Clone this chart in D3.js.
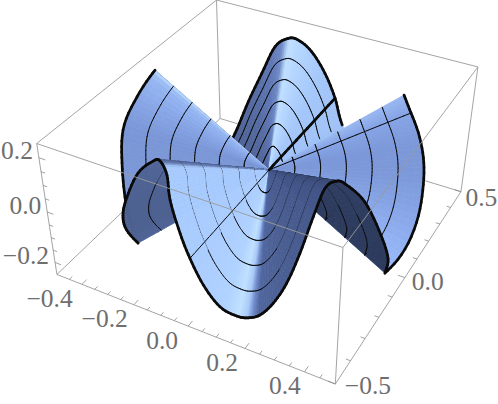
<!DOCTYPE html><html><body style="margin:0;background:#fff"><script src="https://cdn.jsdelivr.net/npm/d3@7"></script>
<svg id="s" width="498" height="404" style="position:absolute;left:0;top:0"></svg>
<script>
// ---- data ----
const xMajor=[-0.4,-0.2,0,0.2,0.4], yMajor=[-0.5,0,0.5], zMajor=[-0.2,0,0.2];
const xMinor=[-.45,-.35,-.3,-.25,-.15,-.1,-.05,.05,.1,.15,.25,.3,.35,.45];
const yMinor=[-.4,-.3,-.2,-.1,.1,.2,.3,.4];
const zMinor=[-.15,-.1,-.05,.05,.1,.15];
const rimRadius=0.5;
// rim arcs : angle (deg) and height
const thetaFront=[247.4,237.6,237.0,242.3,251.4,259.6,262.7,265.2,265.8,269.0,272.3,276.9,282.6,288.4,292.4,296.4,300.8,305.2,309.4,313.5,317.0,320.9,324.5,332.0,340.5,345.6,344.5];
const zFront=[-.031,-.027,.022,.112,.243,.318,.330,.292,.209,.103,.023,-.064,-.134,-.161,-.164,-.151,-.106,-.033,.072,.195,.283,.298,.275,.191,.035,-.083,-.133];
const thetaRight=[344.5,357.2,373.2,384.2,396.1,408.7,415.0];
const zRight=[-.133,-.115,-.061,.008,.051,.096,.133];
const thetaHidden=[55,58,66,78,87.2];
const zHidden=[.133,-.05,-.17,-.25,-.118];
const thetaRear=[78,87.2,91.1,96.0,102.0,107.6,111.7,117.0,122.4,128.1,134.0,140,150,160,166,169.6];
const zRear=[-.25,-.118,-.016,.075,.152,.191,.195,.161,.055,-.058,-.186,-.27,-.2,-.1,-.02,.183];
const thetaLeft=[169.6,181.1,193.3,197.2,197.6,194.8,189.6];
const zLeft=[.183,.132,.07,-.037,-.174,-.291,-.43];
// shading along each arc
const shadeFrontT=[237,262.7,264,272,284,289,292,294,296,305,316,320,325,346];
const shadeFrontC=["#4d6190","#52669a","#a9ccff","#a9ccff","#b0d2ff","#c0e1ff","#a8caf8","#6f8bcb","#4f659e","#4a5e92","#44568a","#3a4a75","#303e62","#2c3a5b"];
const shadeRightT=[345,357,373,384,396,409,415];
const shadeRightC=["#9cbbfb","#93b2f4","#85a3e4","#7c98d8","#7c98d8","#86a4e6","#9ab8f0"];
const shadeRearT=[55,87,96,107,111,114,118,125,135,170];
const shadeRearC=["#a0c2f6","#a0c2f6","#a3c6fa","#b5d6ff","#c0e0ff","#6d88c6","#5f78b6","#566ca4","#4e6396","#4e6396"];
const shadeLeftT=[169.6,172,181,193,198];
const shadeLeftC=["#bcdcff","#98b8f4","#89a7e8","#7a96d6","#7b97d6"];
const thinRulings=[48.7,272.3], boldRulings=[91.1];

// ---- projection fitted on the box corners ----
const sx=d3.scaleLinear().domain([-.5,.5]).range([0,1]);
const sy=d3.scaleLinear().domain([-.5,.5]).range([0,1]);
const sz=d3.scaleLinear().domain([-.25,.25]).range([0,1]);
const anchor=[[0,0,0,56.8,274.3],[1,0,0,335.8,384],[0,1,0,220,118.5],[1,1,0,460.8,191.8],[0,0,1,36.7,143.7],[1,0,1,342.6,247.5],[0,1,1,216.7,0],[1,1,1,478,66.8]];
function solve(A,b){const n=b.length;A=A.map((r,i)=>[...r,b[i]]);for(let i=0;i<n;i++){let p=i;for(let k=i;k<n;k++)if(Math.abs(A[k][i])>Math.abs(A[p][i]))p=k;[A[i],A[p]]=[A[p],A[i]];for(let k=0;k<n;k++)if(k!=i){const f=A[k][i]/A[i][i];for(let j=i;j<=n;j++)A[k][j]-=f*A[i][j];}}return A.map((r,i)=>r[n]/r[i]);}
const rows=[],rhs=[];for(const [X,Y,Z,u,v] of anchor){rows.push([X,Y,Z,1,0,0,0,0,-u*X,-u*Y,-u*Z]);rhs.push(u);rows.push([0,0,0,0,X,Y,Z,1,-v*X,-v*Y,-v*Z]);rhs.push(v);}
const N=d3.range(11).map(i=>d3.range(11).map(j=>d3.sum(rows,r=>r[i]*r[j])));const B=d3.range(11).map(i=>d3.sum(rows,(r,k)=>r[i]*rhs[k]));
const h=solve(N,B);
function proj(x,y,z){const X=sx(x),Y=sy(y),Z=sz(z),w=h[8]*X+h[9]*Y+h[10]*Z+1;return [(h[0]*X+h[1]*Y+h[2]*Z+h[3])/w,(h[4]*X+h[5]*Y+h[6]*Z+h[7])/w,w];}
const svg=d3.select('#s');
const line=d3.line();
const grey="#9a9a9a";
function seg(g,a,b,col,wd){g.append('path').attr('d',line([proj(...a).slice(0,2),proj(...b).slice(0,2)])).attr('stroke',col).attr('stroke-width',wd).attr('fill','none');}
const back=svg.append('g'),surf=svg.append('g'),front=svg.append('g'),labels=svg.append('g');
const L=-.5,H=.5,ZL=-.25,ZH=.25;
[[[L,H,ZH],[L,L,ZH]],[[L,H,ZH],[H,H,ZH]],[[L,H,ZH],[L,H,ZL]],[[L,H,ZL],[L,L,ZL]],[[L,H,ZL],[H,H,ZL]]].forEach(e=>seg(back,e[0],e[1],grey,.9));
[[[L,L,ZH],[H,L,ZH]],[[H,L,ZH],[H,H,ZH]],[[L,L,ZH],[L,L,ZL]],[[L,L,ZL],[H,L,ZL]],[[H,L,ZL],[H,H,ZL]],[[H,H,ZL],[H,H,ZH]],[[H,L,ZH],[H,L,ZL]]].forEach(e=>seg(front,e[0],e[1],grey,.9));
const tickG="#8a8a8a";
xMajor.forEach(v=>seg(front,[v,L,ZL],[v,L+.024,ZL],tickG,.8));xMinor.forEach(v=>seg(front,[v,L,ZL],[v,L+.015,ZL],tickG,.8));
yMajor.forEach(v=>seg(front,[H,v,ZL],[H-.024,v,ZL],tickG,.8));yMinor.forEach(v=>seg(front,[H,v,ZL],[H-.015,v,ZL],tickG,.8));
zMajor.forEach(v=>seg(front,[L,L,v],[L+.024,L,v],tickG,.8));zMinor.forEach(v=>seg(front,[L,L,v],[L+.015,L,v],tickG,.8));
function cr(a,b,c,d,u){return .5*((2*b)+(c-a)*u+(2*a-5*b+4*c-d)*u*u+(3*b-a-3*c+d)*u*u*u);}
function tess(T,Z,n){const out=[];for(let i=0;i<T.length-1;i++){const i0=Math.max(0,i-1),i3=Math.min(T.length-1,i+2);for(let k=0;k<n;k++){const u=k/n;out.push([cr(T[i0],T[i],T[i+1],T[i3],u),cr(Z[i0],Z[i],Z[i+1],Z[i3],u)]);}}out.push([T[T.length-1],Z[Z.length-1]]);return out;}
const cs=(T,C)=>d3.scaleLinear().domain(T).range(C).interpolate(d3.interpolateRgb).clamp(true);
const arcs=[[thetaRear,zRear,cs(shadeRearT,shadeRearC)],[thetaHidden,zHidden,cs(shadeRearT,shadeRearC)],[thetaLeft,zLeft,cs(shadeLeftT,shadeLeftC)],[thetaFront,zFront,cs(shadeFrontT,shadeFrontC)],[thetaRight,zRight,cs(shadeRightT,shadeRightC)]];
const NB=18, items=[];
const P3=(th,z,f)=>{const a=th*Math.PI/180;return [f*rimRadius*Math.cos(a),f*rimRadius*Math.sin(a),f*z];};
const xy=p=>p.slice(0,2);
arcs.forEach(([T,Z,col])=>{const pts=tess(T,Z,6);
 for(let i=0;i<pts.length-1;i++){const A=pts[i],C=pts[i+1],th=(A[0]+C[0])/2,fill=col(th);
  const cross=v=>(A[0]<=v&&v<C[0])||(C[0]<=v&&v<A[0]);
  const showLines=T===thetaHidden?false:(T===thetaRear?(th>=86.8&&th<=134.5):true);
  for(let b=0;b<NB;b++){const f0=b/NB,f1=(b+1)/NB;
   const q=[proj(...P3(A[0],A[1],f0)),proj(...P3(A[0],A[1],f1)),proj(...P3(C[0],C[1],f1)),proj(...P3(C[0],C[1],f0))];
   const dep=d3.mean(q,p=>p[2]);
   items.push({d:dep,kind:0,path:line(q.map(xy))+'Z',fill});
   if(showLines){
    if(b<NB-1&&(b+1)%3==0)items.push({d:dep-.006,kind:1,path:line([q[1],q[2]].map(xy)),wd:1});
    if(b==NB-1)items.push({d:dep-.01,kind:1,path:line([q[1],q[2]].map(xy)),wd:2.7});
    thinRulings.concat(thinRulings.map(v=>v+360)).forEach(v=>{if(cross(v))items.push({d:dep-.006,kind:1,path:line([q[0],q[1]].map(xy)),wd:1});});
    boldRulings.forEach(v=>{if(cross(v))items.push({d:dep-.008,kind:1,path:line([q[0],q[1]].map(xy)),wd:2.7});});
   }
  }}});
items.sort((a,b)=>b.d-a.d);
surf.selectAll('path').data(items).join('path').attr('d',d=>d.path)
 .attr('fill',d=>d.kind?'none':d.fill).attr('stroke',d=>d.kind?'#0a0a0a':d.fill)
 .attr('stroke-width',d=>d.kind?d.wd:.7).attr('stroke-linecap',d=>d.kind?'round':'butt').attr('stroke-linejoin','round');
const fmt=v=>(v<0?'\u2212':'')+Math.abs(v).toFixed(1);
const txt=(x,y,t,an)=>labels.append('text').attr('x',x).attr('y',y).attr('text-anchor',an).attr('dominant-baseline','central').attr('font-family','Liberation Serif').attr('font-size',25.5).attr('fill','#6e6e6e').text(t);
xMajor.forEach(v=>{const p=proj(v,L,ZL);txt(p[0]-26+v*16,p[1]+14,fmt(v),'middle');});
yMajor.forEach(v=>{const p=proj(H,v,ZL);txt(p[0]+7-5*v,p[1]+3.5+v*5,fmt(v),'start');});
zMajor.forEach(v=>{const p=proj(L,L,v);txt(p[0]-6,p[1]-7,fmt(v),'end');});
</script></body></html>
